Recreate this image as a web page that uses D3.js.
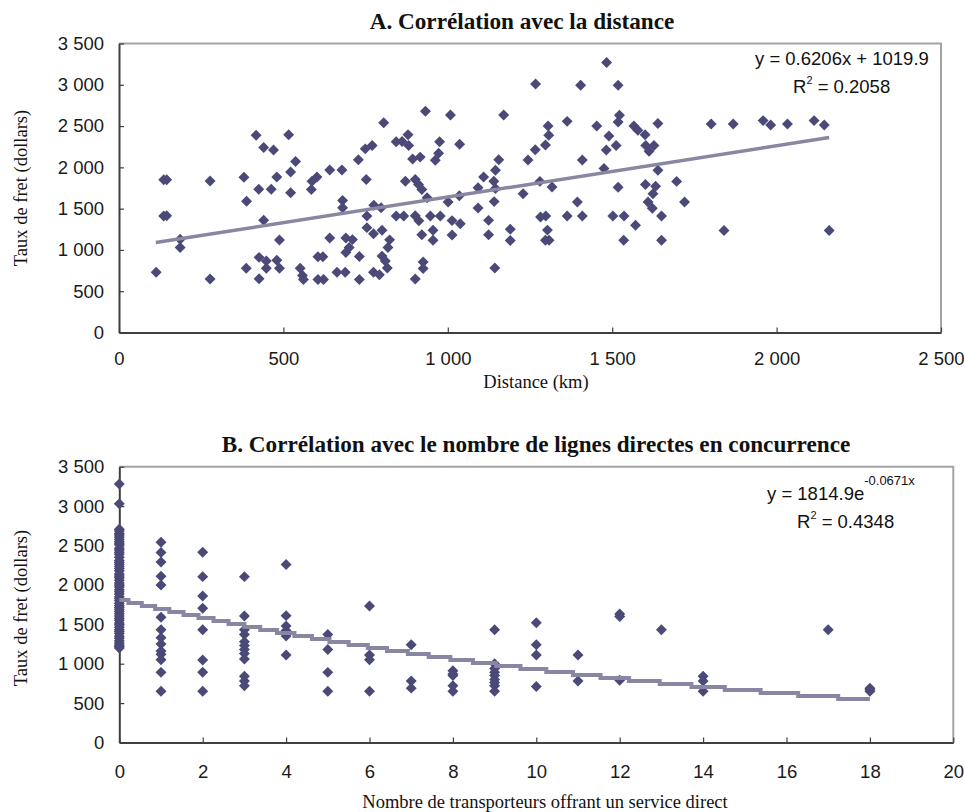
<!DOCTYPE html>
<html>
<head>
<meta charset="utf-8">
<script src="https://cdn.jsdelivr.net/npm/d3@7"></script>
<style>
  body { margin: 0; background: #ffffff; }
  svg { display: block; }
</style>
</head>
<body>
<svg id="chart" width="965" height="812"></svg>
<script>
// ---- Panel A: freight rate against route distance ----
const distanceKm = [
  113, 136, 145, 136, 145, 186, 186, 277, 277, 380, 388, 387, 417, 425, 440, 470, 440, 426, 426, 448,
  448, 463, 480, 480, 488, 488, 516, 522, 537, 522, 551, 558, 561, 587, 602, 585, 605, 620, 605, 622,
  641, 641, 663, 688, 678, 680, 680, 690, 710, 700, 690, 728, 731, 731, 752, 749, 770, 805, 754, 775,
  797, 754, 774, 800, 823, 818, 800, 810, 816, 774, 792, 843, 843, 866, 861, 879, 881, 893, 916, 871,
  901, 911, 921, 901, 912, 925, 925, 901, 921, 932, 937, 947, 955, 955, 977, 975, 972, 962, 1008, 1001,
  1036, 1035, 1013, 1038, 1013, 1092, 1092, 1109, 1124, 1124, 1140, 1145, 1141, 1143, 1155, 1145, 1170, 1190, 1190, 1229,
  1244, 1266, 1267, 1280, 1282, 1298, 1297, 1305, 1307, 1303, 1297, 1308, 1317, 1363, 1363, 1394, 1409, 1404, 1409, 1453,
  1475, 1482, 1490, 1483, 1512, 1502, 1518, 1522, 1518, 1518, 1536, 1535, 1566, 1578, 1600, 1602, 1627, 1612, 1639, 1639,
  1601, 1632, 1624, 1609, 1622, 1571, 1650, 1650, 1696, 1720, 1801, 1840, 1868, 1959, 1982, 2033, 2114, 2145, 2160
];
const rateByDistance = [
  730, 1850, 1850, 1410, 1415, 1130, 1030, 1835, 648, 1880, 1590, 778, 2390, 1736, 2240, 2210, 1360, 910, 650, 865,
  778, 1736, 1884, 875, 778, 1120, 2395, 1944, 2070, 1692, 778, 690, 642, 1832, 1884, 1732, 918, 918, 642, 642,
  1968, 1145, 730, 730, 1968, 1598, 1510, 1145, 1125, 1030, 970, 2092, 920, 642, 1852, 2224, 2264, 2540, 1410, 1540,
  1510, 1270, 1195, 1238, 1122, 1030, 925, 866, 780, 730, 700, 2310, 1410, 1410, 2312, 2395, 2264, 2100, 2124, 1832,
  1852, 1792, 1732, 1415, 1352, 855, 775, 648, 1185, 2680, 1632, 1410, 1238, 1118, 1410, 2310, 2172, 2085, 2635, 1580,
  2280, 1655, 1355, 1318, 1182, 1507, 1752, 1884, 1358, 1185, 1832, 1744, 1585, 780, 2092, 1964, 2635, 1250, 1115, 1680,
  2090, 2212, 3010, 1830, 1400, 1410, 2270, 2500, 2390, 1240, 1118, 1118, 1762, 2557, 1410, 1580, 2090, 2994, 1410, 2500,
  1985, 2210, 2380, 3270, 2265, 1410, 2994, 2630, 2550, 1760, 1410, 1118, 2500, 2450, 2395, 2266, 2265, 2195, 2530, 1964,
  1792, 1770, 1680, 1580, 1505, 1300, 1410, 1118, 1830, 1580, 2526, 1235, 2526, 2566, 2514, 2526, 2566, 2514, 1235
];

// ---- Panel B: freight rate against number of carriers with a direct service ----
const carrierCount = [
  0, 0, 0, 0, 0, 0, 0, 0, 0, 0, 0, 0, 0, 0, 0, 0, 0, 0, 0, 0,
  0, 0, 0, 0, 0, 0, 0, 0, 0, 0, 0, 0, 0, 0, 0, 0, 0, 0, 0, 0,
  0, 0, 0, 0, 0, 0, 0, 0, 0, 0, 0, 0, 0, 0, 0, 0, 0,
  1, 1, 1, 1, 1, 1, 1, 1, 1, 1, 1, 1, 1, 1,
  2, 2, 2, 2, 2, 2, 2, 2,
  3, 3, 3, 3, 3, 3, 3, 3, 3, 3, 3, 3,
  4, 4, 4, 4, 4, 4,
  5, 5, 5, 5,
  6, 6, 6, 6,
  7, 7, 7,
  8, 8, 8, 8, 8,
  9, 9, 9, 9, 9, 9, 9, 9, 9,
  10, 10, 10, 10,
  11, 11,
  12, 12, 12,
  13,
  14, 14, 14,
  17,
  18, 18, 18
];
const rateByCarriers = [
  3280, 3030, 2705, 2684, 2651, 2633, 2607, 2578, 2552, 2527, 2508, 2466, 2442, 2413, 2388, 2352, 2311, 2286, 2262, 2233,
  2207, 2178, 2139, 2114, 2091, 2058, 2023, 1998, 1972, 1938, 1913, 1884, 1851, 1827, 1803, 1766, 1738, 1712, 1688, 1661,
  1633, 1604, 1577, 1552, 1518, 1493, 1462, 1432, 1408, 1383, 1349, 1322, 1291, 1264, 1238, 1219, 1198,
  2540, 2410, 2290, 2110, 2000, 1590, 1430, 1330, 1250, 1160, 1120, 1050, 890, 650,
  2414, 2105, 1860, 1703, 1430, 1048, 892, 650,
  2105, 1606, 1430, 1370, 1280, 1230, 1180, 1130, 1060, 840, 780, 720,
  2260, 1610, 1480, 1420, 1350, 1110,
  1370, 1180, 890, 650,
  1733, 1110, 1050, 650,
  1240, 780, 690,
  910, 870, 850, 720, 650,
  1430, 1000, 940, 890, 850, 800, 760, 720, 650,
  1520, 1240, 1110, 710,
  1110, 780,
  1630, 1600, 790,
  1430,
  840, 780, 650,
  1430,
  690, 670, 650
];

const rateTicks = [0, 500, 1000, 1500, 2000, 2500, 3000, 3500];
const distanceTicks = [0, 500, 1000, 1500, 2000, 2500];
const carrierTicks = [0, 2, 4, 6, 8, 10, 12, 14, 16, 18, 20];

// Fitted trend lines, drawn from their printed equations
const linearFit = { slope: 0.6206, intercept: 1019.9, r2: "0.2058", from: 112, to: 2160 };
const expFit = { a: 1814.9, b: -0.0671, r2: "0.4348", from: 0, to: 18 };

const titleA = "A. Corrélation avec la distance";
const titleB = "B. Corrélation avec le nombre de lignes directes en concurrence";
const xTitleA = "Distance (km)";
const xTitleB = "Nombre de transporteurs offrant un service direct";
const yTitle = "Taux de fret (dollars)";

// ---- styling ----
const MARK = "#4b4977";
const TREND = "#8986a2";
const AXIS = "#3f3f3f";
const FRAME = "#a3a3a3";
const SANS = "'Liberation Sans', Arial, sans-serif";
const SERIF = "'Liberation Serif', 'Times New Roman', serif";

const fmt = d3.formatLocale({ decimal: ".", thousands: " ", grouping: [3], currency: ["", ""] }).format(",");
const svg = d3.select("#chart");
const diamond = d3.symbol(d3.symbolSquare, 60);

function drawFrame(g, x, y, xTicks, xPad) {
  const [x0, x1] = x.range();
  const [yb, yt] = y.range();
  g.append("path")
    .attr("d", `M${x0},${yt}H${x1}V${yb}`)
    .attr("fill", "none").attr("stroke", FRAME).attr("stroke-width", 2);

  const ay = g.append("g").attr("transform", `translate(${x0},0)`)
    .call(d3.axisLeft(y).tickValues(rateTicks).tickFormat(fmt)
      .tickSizeInner(-5).tickSizeOuter(0).tickPadding(15));
  const ax = g.append("g").attr("transform", `translate(0,${yb})`)
    .call(d3.axisBottom(x).tickValues(xTicks).tickFormat(fmt)
      .tickSizeInner(-5).tickSizeOuter(0).tickPadding(xPad));
  [ay, ax].forEach(a => {
    a.select(".domain").attr("stroke", AXIS).attr("stroke-width", 2);
    a.selectAll(".tick line").attr("stroke", AXIS).attr("stroke-width", 1.2);
    a.selectAll(".tick text").attr("fill", "#1a1a1a")
      .style("font-family", SANS).style("font-size", "18.5px");
  });
}

function drawPoints(g, x, y, xs, ys) {
  g.append("g").selectAll("path")
    .data(xs.map((v, i) => [v, ys[i]]))
    .join("path")
    .attr("d", diamond)
    .attr("transform", d => `translate(${x(d[0])},${y(d[1])}) rotate(45)`)
    .attr("fill", MARK);
}

function label(g, txt, x, y, opts) {
  const t = g.append("text").attr("x", x).attr("y", y).text(txt)
    .attr("fill", "#111")
    .style("font-family", opts.family)
    .style("font-size", opts.size + "px")
    .style("font-weight", opts.weight || "normal")
    .attr("text-anchor", opts.anchor || "middle");
  if (opts.rotate) t.attr("transform", `rotate(-90,${x},${y})`);
  return t;
}

// ---------- Panel A ----------
const gA = svg.append("g");
const xA = d3.scaleLinear().domain([0, 2500]).range([119, 941]);
const yA = d3.scaleLinear().domain([0, 3500]).range([332.5, 43.5]);
drawFrame(gA, xA, yA, distanceTicks, 19);
drawPoints(gA, xA, yA, distanceKm, rateByDistance);

gA.append("line")
  .attr("x1", xA(linearFit.from)).attr("y1", yA(linearFit.slope * linearFit.from + linearFit.intercept))
  .attr("x2", xA(linearFit.to)).attr("y2", yA(linearFit.slope * linearFit.to + linearFit.intercept))
  .attr("stroke", TREND).attr("stroke-width", 3.5);

label(gA, titleA, 522, 29, { family: SERIF, size: 23.2, weight: "bold" });
label(gA, xTitleA, 536, 388, { family: SERIF, size: 18.5 });
label(gA, yTitle, 27, 188, { family: SERIF, size: 18.5, rotate: true });

const eqA = gA.append("g").style("font-family", SANS).style("font-size", "18.5px").attr("fill", "#111");
eqA.append("text").attr("x", 755).attr("y", 65)
  .text(`y = ${linearFit.slope}x + ${linearFit.intercept}`);
const r2A = eqA.append("text").attr("x", 793).attr("y", 93);
r2A.append("tspan").text("R");
r2A.append("tspan").attr("dy", -9).style("font-size", "11px").text("2");
r2A.append("tspan").attr("dy", 9).text(` = ${linearFit.r2}`);

// ---------- Panel B ----------
const gB = svg.append("g");
const xB = d3.scaleLinear().domain([0, 20]).range([119.3, 953.3]);
const yB = d3.scaleLinear().domain([0, 3500]).range([742.5, 466.7]);
drawFrame(gB, xB, yB, carrierTicks, 22);
drawPoints(gB, xB, yB, carrierCount, rateByCarriers);

// Exponential fit, rendered as a stepped trace
const fitB = d3.range(expFit.from, expFit.to + 1e-9, 0.02)
  .map(v => [xB(v), Math.round(yB(expFit.a * Math.exp(expFit.b * v)) / 3) * 3]);
gB.append("path")
  .attr("d", d3.line().curve(d3.curveStepAfter)(fitB))
  .attr("fill", "none").attr("stroke", TREND).attr("stroke-width", 4);

label(gB, titleB, 536, 452, { family: SERIF, size: 23.2, weight: "bold" });
label(gB, xTitleB, 545, 808, { family: SERIF, size: 18.5 });
label(gB, yTitle, 27, 608, { family: SERIF, size: 18.5, rotate: true });

const eqB = gB.append("g").style("font-family", SANS).style("font-size", "18.5px").attr("fill", "#111");
const e1 = eqB.append("text").attr("x", 767).attr("y", 500);
e1.append("tspan").text(`y = ${expFit.a}e`);
e1.append("tspan").attr("dy", -15).style("font-size", "13px").text(`${expFit.b}x`);
const r2B = eqB.append("text").attr("x", 797).attr("y", 528);
r2B.append("tspan").text("R");
r2B.append("tspan").attr("dy", -9).style("font-size", "11px").text("2");
r2B.append("tspan").attr("dy", 9).text(` = ${expFit.r2}`);
</script>
</body>
</html>
